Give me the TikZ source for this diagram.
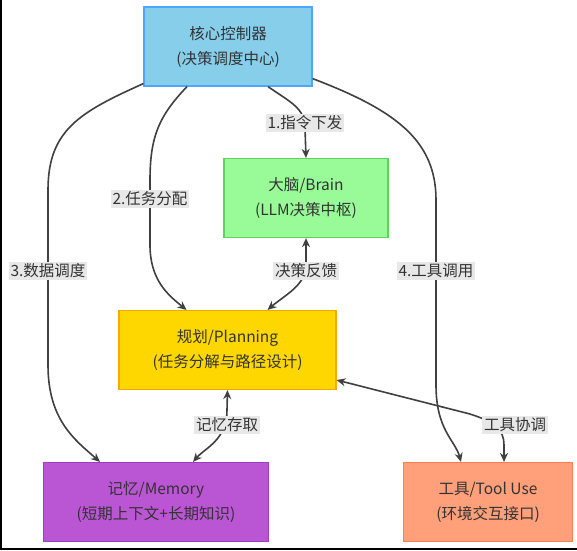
\documentclass[tikz,border=0pt]{standalone}
\usepackage{fontspec}
\setmainfont{Noto Sans CJK SC}
\usetikzlibrary{arrows.meta}
\definecolor{ctrlfill}{HTML}{87CEEB}
\definecolor{ctrlline}{HTML}{4DA6FF}
\definecolor{brainfill}{HTML}{98FB98}
\definecolor{brainline}{HTML}{5FD35F}
\definecolor{planfill}{HTML}{FFD700}
\definecolor{planline}{HTML}{FFA500}
\definecolor{memfill}{HTML}{BA55D3}
\definecolor{memline}{HTML}{9B3FC0}
\definecolor{toolfill}{HTML}{FFA07A}
\definecolor{toolline}{HTML}{FF7F50}
\definecolor{edgegray}{HTML}{404040}
\definecolor{lblgray}{HTML}{E8E8E8}
\definecolor{txtgray}{HTML}{333333}

\begin{document}
\begin{tikzpicture}[x=1pt,y=-1pt,
   box/.style={draw,line width=1.2pt,align=center,inner sep=0pt,text=txtgray,
     font=\fontsize{15.5}{25}\selectfont,minimum height=79pt},
   flow/.style={draw=edgegray,line width=1.6pt,-{Stealth[length=9pt,width=8pt]}},
   biflow/.style={flow,{Stealth[length=9pt,width=8pt]}-{Stealth[length=9pt,width=8pt]}},
   lbl/.style={fill=lblgray,text=txtgray,inner sep=2pt,font=\fontsize{15.5}{18}\selectfont}]
   \useasboundingbox (0,0) rectangle (577,550);
   \fill[white] (0,0) rectangle (577,550);
   \fill[black] (0,0) rectangle (1.5,550);
   \fill[black] (0,547.5) rectangle (577,550);

   \node[box,fill=ctrlfill,draw=ctrlline,minimum width=168pt] (ctrl) at (228,46.5) {核心控制器\\(决策调度中心)};
   \node[box,fill=brainfill,draw=brainline,minimum width=164pt] (brain) at (306,198) {大脑/Brain\\(LLM决策中枢)};
   \node[box,fill=planfill,draw=planline,minimum width=217pt] (plan) at (227.5,350) {规划/Planning\\(任务分解与路径设计)};
   \node[box,fill=memfill,draw=memline,minimum width=225pt] (mem) at (156,502) {记忆/Memory\\(短期上下文+长期知识)};
   \node[box,fill=toolfill,draw=toolline,minimum width=169pt] (tool) at (488,502) {工具/Tool Use\\(环境交互接口)};

   \draw[flow] ([xshift=40pt]ctrl.south) .. controls (290,102) and (305,108) .. (305,128) -- (brain.north);
   \draw[flow] ([xshift=-41pt]ctrl.south) .. controls (160,115) and (150,135) .. (150,180)
     -- (150,245) .. controls (150,280) and (168,295) .. ([xshift=-41pt]plan.north);
   \draw[flow] ([yshift=3pt]ctrl.south west) .. controls (80,112) and (48,130) .. (48,190)
     -- (48,365) .. controls (48,420) and (75,440) .. ([xshift=-56pt]mem.north);
   \draw[flow] ([yshift=8pt]ctrl.south east) .. controls (395,110) and (436,140) .. (436,200)
     -- (436,385) .. controls (436,430) and (455,440) .. ([xshift=-27pt]tool.north);
   \draw[biflow] ([xshift=40pt]plan.north) .. controls (285,295) and (306,285) .. (306,265) -- (brain.south);
   \draw[biflow] (plan.south) -- (227,410) .. controls (227,440) and (205,448) .. ([xshift=37pt]mem.north);
   \draw[biflow] ([yshift=-30pt]plan.east) -- (470,414) .. controls (495,422) and (504,430) .. (504,445)
     -- ([xshift=16pt]tool.north);

   \node[lbl] (l1) at (305,123) {1.指令下发};
   \node[lbl] (l2) at (150,199) {2.任务分配};
   \node[lbl] (l3) at (48,271) {3.数据调度};
   \node[lbl] (l4) at (436,271) {4.工具调用};
   \node[lbl] (l5) at (306,271) {决策反馈};
   \node[lbl] (l6) at (227,425) {记忆存取};
   \node[lbl] (l7) at (515,425) {工具协调};
\end{tikzpicture}
\end{document}
